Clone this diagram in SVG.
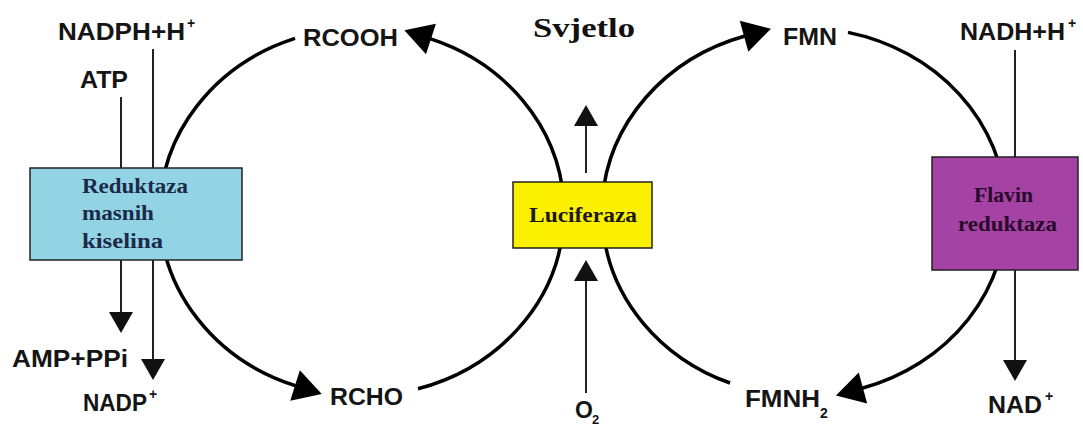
<svg xmlns="http://www.w3.org/2000/svg" width="1083" height="425" viewBox="0 0 1083 425">
<style>
.lbl{font-family:"Liberation Sans",Arial,sans-serif;font-weight:bold;font-size:23px;fill:#151515}
.sup{font-family:"Liberation Sans",Arial,sans-serif;font-weight:bold;font-size:14px;fill:#151515}
.enz{font-family:"Liberation Serif","Times New Roman",serif;font-weight:bold;font-size:22px}
.arc{fill:none;stroke:#000;stroke-width:3.5}
.thin{fill:none;stroke:#222;stroke-width:2}
.box{stroke:#222;stroke-width:1.5}
</style>
<defs>
<marker id="bigHead" markerUnits="userSpaceOnUse" markerWidth="30" markerHeight="32" viewBox="0 0 30 32" refX="1" refY="16" orient="auto" overflow="visible">
<path d="M0,0 L28,16 L0,32 z" fill="#000"/>
</marker>
<marker id="smallHead" markerUnits="userSpaceOnUse" markerWidth="22" markerHeight="24" viewBox="0 0 22 24" refX="1" refY="12" orient="auto" overflow="visible">
<path d="M0,0 L21,12 L0,24 z" fill="#111"/>
</marker>
</defs>
<rect width="1083" height="425" fill="#fff"/>
<g id="connectors">
<path class="arc" d="M563.6,200 A202,184 0 0 0 430,38.7" marker-end="url(#bigHead)"/>
<path class="arc" d="M295,38.4 A202,184 0 0 0 296,385.9" marker-end="url(#bigHead)"/>
<path class="arc" d="M418,388.8 A202,184 0 0 0 563,230"/>
<path class="arc" d="M602.4,200 A202,184 0 0 1 745,36" marker-end="url(#bigHead)"/>
<path class="arc" d="M848,32.4 A202,184 0 0 1 862,388.3" marker-end="url(#bigHead)"/>
<path class="arc" d="M730,383 A202,184 0 0 1 603,230"/>
<line class="thin" x1="121" y1="97" x2="121" y2="313" marker-end="url(#smallHead)"/>
<line class="thin" x1="153" y1="49" x2="153" y2="360" marker-end="url(#smallHead)"/>
<line class="thin" x1="1015" y1="50" x2="1015" y2="361" marker-end="url(#smallHead)"/>
<line class="thin" x1="586" y1="173" x2="586" y2="125" marker-end="url(#smallHead)"/>
<line class="thin" x1="586" y1="393" x2="586" y2="280" marker-end="url(#smallHead)"/>
</g>
<g id="reduktaza">
<rect class="box" x="30" y="168" width="212" height="92" fill="#93d4e4"/>
<text class="enz" fill="#1b2a4a" x="82" y="193" textLength="106" lengthAdjust="spacingAndGlyphs">Reduktaza</text>
<text class="enz" fill="#1b2a4a" x="82" y="220" textLength="72" lengthAdjust="spacingAndGlyphs">masnih</text>
<text class="enz" fill="#1b2a4a" x="82" y="248" textLength="81" lengthAdjust="spacingAndGlyphs">kiselina</text>
</g>
<g id="luciferaza">
<rect class="box" x="513" y="182" width="139" height="66" fill="#fbf000"/>
<text class="enz" fill="#1a1a10" x="529" y="222" textLength="108" lengthAdjust="spacingAndGlyphs">Luciferaza</text>
</g>
<g id="flavin-reduktaza">
<rect class="box" x="932" y="157" width="146" height="113" fill="#a443a4"/>
<text class="enz" fill="#2a0a2a" x="974" y="202" textLength="59" lengthAdjust="spacingAndGlyphs">Flavin</text>
<text class="enz" fill="#2a0a2a" x="958" y="231" textLength="99" lengthAdjust="spacingAndGlyphs">reduktaza</text>
</g>
<g id="svjetlo">
<text class="enz" fill="#111" style="font-size:27px" x="533" y="37" textLength="102" lengthAdjust="spacingAndGlyphs">Svjetlo</text>
</g>
<g id="nadph">
<text class="lbl" x="58" y="40" textLength="127" lengthAdjust="spacingAndGlyphs">NADPH+H</text>
<text class="sup" x="187" y="28">+</text>
</g>
<g id="atp"><text class="lbl" x="80" y="88" textLength="48" lengthAdjust="spacingAndGlyphs">ATP</text></g>
<g id="amp"><text class="lbl" x="12" y="367" textLength="116" lengthAdjust="spacingAndGlyphs">AMP+PPi</text></g>
<g id="nadp">
<text class="lbl" x="83" y="411" textLength="64" lengthAdjust="spacingAndGlyphs">NADP</text>
<text class="sup" x="149" y="399">+</text>
</g>
<g id="rcooh"><text class="lbl" x="303" y="46" textLength="95" lengthAdjust="spacingAndGlyphs">RCOOH</text></g>
<g id="rcho"><text class="lbl" x="330" y="405" textLength="73" lengthAdjust="spacingAndGlyphs">RCHO</text></g>
<g id="fmn"><text class="lbl" x="783" y="45" textLength="54" lengthAdjust="spacingAndGlyphs">FMN</text></g>
<g id="fmnh2">
<text class="lbl" x="745" y="407" textLength="75" lengthAdjust="spacingAndGlyphs">FMNH</text>
<text class="sup" x="820" y="418">2</text>
</g>
<g id="nadh">
<text class="lbl" x="960" y="40" textLength="105" lengthAdjust="spacingAndGlyphs">NADH+H</text>
<text class="sup" x="1068" y="28">+</text>
</g>
<g id="nad">
<text class="lbl" x="988" y="413" textLength="54" lengthAdjust="spacingAndGlyphs">NAD</text>
<text class="sup" x="1045" y="401">+</text>
</g>
<g id="o2">
<text class="lbl" x="575" y="418">O</text>
<text class="sup" x="592" y="424" style="font-size:13px">2</text>
</g>
</svg>
